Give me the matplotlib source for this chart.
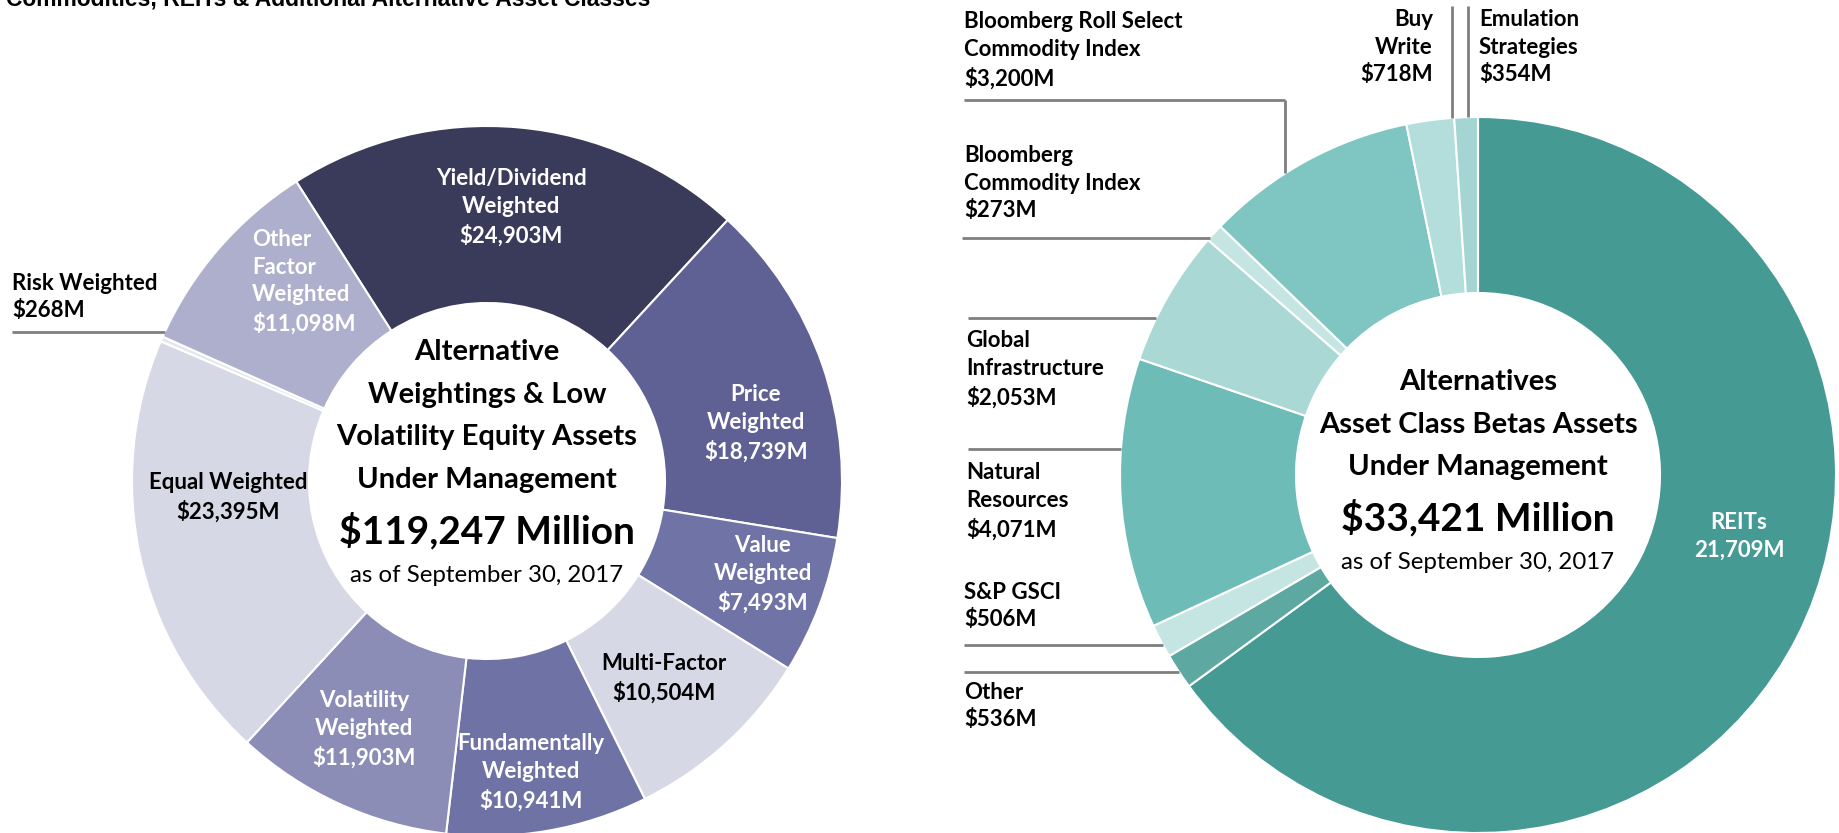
# two donut charts: alternative weightings and asset class betas AUM
import numpy as np
import matplotlib.pyplot as plt

plt.rcParams['font.family'] = ['Lato', 'DejaVu Sans']

W, H = 1839, 833

# left donut data
alt_names = ['Yield/Dividend\nWeighted', 'Price\nWeighted', 'Value\nWeighted', 'Multi-Factor',
             'Fundamentally\nWeighted', 'Volatility\nWeighted', 'Equal Weighted', 'Risk Weighted',
             'Other\nFactor\nWeighted']
alt_values = [24903, 18739, 7493, 10504, 10941, 11903, 23395, 268, 11098]
alt_colors = ['#3a3a5a', '#5f6195', '#7073a5', '#d7d8e6', '#6f72a4', '#8b8db6', '#d7d8e6',
              '#e6e6ef', '#adafcc']
alt_title = 'Alternative\nWeightings & Low\nVolatility Equity Assets\nUnder Management'
alt_total = '$119,247 Million'

# right donut data
beta_names = ['REITs', 'Other', 'S&P GSCI', 'Natural\nResources', 'Global\nInfrastructure',
              'Bloomberg\nCommodity Index', 'Bloomberg Roll Select\nCommodity Index', 'Buy\nWrite',
              'Emulation\nStrategies']
beta_values = [21709, 536, 506, 4071, 2053, 273, 3200, 718, 354]
beta_colors = ['#459a94', '#5ea8a2', '#c5e5e3', '#6dbcb7', '#a9d8d5', '#c5e5e3', '#7fc5c1',
               '#b3dedb', '#a4d5d2']
beta_title = 'Alternatives\nAsset Class Betas Assets\nUnder Management'
beta_total = '$33,421 Million'

as_of = 'as of September 30, 2017'
top_title = 'Commodities, REITs & Additional Alternative Asset Classes'

# layout in pixels, y from the top
L_C, L_R, L_W = (487, 481), 355, 177
R_C, R_R, R_W = (1478, 475), 358, 176

# (x, y, ha, color) for each left label
alt_pos = [(511, 207, 'center', 'white'), (756, 423, 'center', 'white'),
           (763, 574, 'center', 'white'), (664, 678, 'center', 'black'),
           (531, 772, 'center', 'white'), (364, 729, 'center', 'white'),
           (228, 497, 'center', 'black'), (12, 297, 'left', 'black'),
           (252, 282, 'left', 'white')]
# (x, y, ha, color) for each right label
beta_pos = [(1739, 536, 'center', 'white'), (964, 706, 'left', 'black'),
            (964, 606, 'left', 'black'), (966, 501, 'left', 'black'),
            (966, 369, 'left', 'black'), (964, 183, 'left', 'black'),
            (964, 50, 'left', 'black'), (1433, 47, 'right', 'black'),
            (1479, 47, 'left', 'black')]


def py(y):
    return H - y


def money(name, v):
    if name == 'REITs':
        return f'{v:,}M'
    return f'${v:,}M'


def donut(ax, values, colors, center, radius, width, start):
    ax.pie(values, colors=colors, startangle=start, counterclock=False,
           radius=radius, center=(center[0], py(center[1])),
           wedgeprops=dict(width=width, edgecolor='white', linewidth=1.5))


def labels(ax, names, values, pos):
    for n, v, (x, y, ha, c) in zip(names, values, pos):
        ax.text(x, py(y), n + '\n' + money(n, v), ha=ha, va='center', color=c,
                fontsize=16, fontweight='bold', linespacing=1.4)


def center_text(ax, center, title, total, y0):
    x = center[0]
    rows = title.split('\n')
    for i, r in enumerate(rows):
        ax.text(x, py(y0 + i * 42.6), r, ha='center', va='center', fontsize=21,
                fontweight='bold')
    ty = y0 + len(rows) * 42.6 + 8
    ax.text(x, py(ty), total, ha='center', va='center', fontsize=28, fontweight='bold')
    ax.text(x, py(ty + 45), as_of, ha='center', va='center', fontsize=17.3)


def hline(ax, y, x0, center, radius):
    x1 = center[0] - np.sqrt(radius ** 2 - (y - center[1]) ** 2)
    ax.plot([x0, x1], [py(y), py(y)], color='#7f7f7f', lw=2, solid_capstyle='butt')


def vline(ax, x, y0, center, radius):
    y1 = center[1] - np.sqrt(radius ** 2 - (x - center[0]) ** 2)
    ax.plot([x, x], [py(y0), py(y1)], color='#7f7f7f', lw=2, solid_capstyle='butt')


fig = plt.figure(figsize=(W / 100, H / 100), dpi=100)
ax = fig.add_axes([0, 0, 1, 1])

donut(ax, alt_values, alt_colors, L_C, L_R, L_W, 122.5)
donut(ax, beta_values, beta_colors, R_C, R_R, R_W, 90)

labels(ax, alt_names, alt_values, alt_pos)
labels(ax, beta_names, beta_values, beta_pos)

center_text(ax, L_C, alt_title, alt_total, 352)
center_text(ax, R_C, beta_title, beta_total, 382)

# leader lines
hline(ax, 332, 12, L_C, L_R)
hline(ax, 238, 962, R_C, R_R)
hline(ax, 318, 968, R_C, R_R)
hline(ax, 449, 968, R_C, R_R)
hline(ax, 645, 964, R_C, R_R)
hline(ax, 672, 964, R_C, R_R)
ax.plot([964, 1285], [py(100), py(100)], color='#7f7f7f', lw=2, solid_capstyle='butt')
vline(ax, 1285, 100, R_C, R_R)
vline(ax, 1452, 6, R_C, R_R)
vline(ax, 1468, 6, R_C, R_R)

# cut-off heading at the very top
ax.text(6, py(5), top_title, ha='left', va='baseline', fontsize=16.5,
        fontweight='bold', family=['Liberation Sans', 'DejaVu Sans'])

ax.set_xlim(0, W)
ax.set_ylim(0, H)
ax.set_aspect('equal')
ax.axis('off')

plt.savefig('out.png', dpi=100)
